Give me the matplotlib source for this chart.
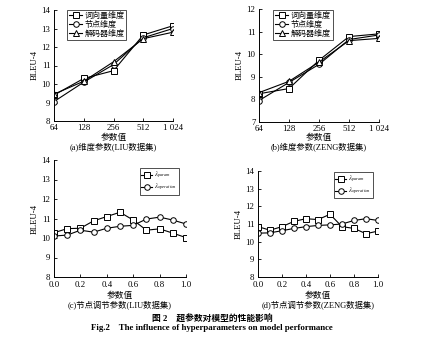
import matplotlib.pyplot as plt

plt.rcParams['font.family'] = ['Liberation Serif', 'Noto Sans CJK SC']
plt.rcParams['mathtext.fontset'] = 'stix'

# Dimension parameters
dim_labels = ["64", "128", "256", "512", "1 024"]
liu_word = [9.4, 10.3, 10.72, 12.65, 13.15]
liu_node = [9.05, 10.1, 11.05, 12.5, 13.0]
liu_dec = [9.45, 10.15, 11.2, 12.45, 12.8]
zeng_word = [8.25, 8.48, 9.73, 10.78, 10.9]
zeng_node = [7.95, 8.75, 9.55, 10.65, 10.85]
zeng_dec = [8.3, 8.8, 9.65, 10.6, 10.7]

# Node adjustment parameters
lam = [0.0, 0.1, 0.2, 0.3, 0.4, 0.5, 0.6, 0.7, 0.8, 0.9, 1.0]
liu_param = [10.27, 10.48, 10.5, 10.88, 11.1, 11.32, 10.92, 10.4, 10.47, 10.25, 10.02]
liu_oper = [10.1, 10.15, 10.4, 10.3, 10.5, 10.6, 10.65, 10.97, 11.07, 10.92, 10.72]
zeng_param = [10.85, 10.65, 10.85, 11.15, 11.3, 11.25, 11.55, 10.85, 10.75, 10.45, 10.6]
zeng_oper = [10.48, 10.5, 10.62, 10.75, 10.85, 10.92, 10.95, 11.0, 11.2, 11.3, 11.2]

dim_names = ["词向量维度", "节点维度", "解码器维度"]

W, H = 444, 352
fig = plt.figure(figsize=(W / 100, H / 100), dpi=100)

fs = 6.3
lkw = dict(color="black", lw=0.8, markerfacecolor="white", markeredgecolor="black",
           markersize=4, markeredgewidth=0.7)


def add_ax(left, right, top, bottom):
    return fig.add_axes([left / W, 1 - bottom / H, (right - left) / W, (bottom - top) / H])


def style(ax, xlabel_y, caption_y, caption, xpad):
    ax.spines["top"].set_visible(False)
    ax.spines["right"].set_visible(False)
    ax.spines["left"].set_linewidth(0.7)
    ax.spines["bottom"].set_linewidth(0.7)
    ax.tick_params(direction="in", length=2.5, width=0.6, labelsize=fs)
    ax.tick_params(axis="x", pad=xpad)
    ax.tick_params(axis="y", pad=2.5)
    ax.set_ylabel("BLEU-4", fontsize=fs, labelpad=2)
    pos = ax.get_position()
    xc = (pos.x0 + pos.x1) / 2
    fig.text(xc, 1 - xlabel_y / H, "参数值", ha="center", va="center", fontsize=fs)
    fig.text(xc, 1 - caption_y / H, caption, ha="center", va="center", fontsize=fs - 0.3)


def legend(ax, anchor, size):
    leg = ax.legend(loc="upper left", bbox_to_anchor=anchor, fontsize=size, frameon=True,
                    fancybox=False, edgecolor="black", handlelength=1.6, handletextpad=0.3,
                    borderpad=0.25, labelspacing=0.1, borderaxespad=0.0)
    leg.get_frame().set_linewidth(0.6)


# (a)
ax = add_ax(54, 173, 10, 121)
x = range(len(dim_labels))
ax.plot(x, liu_word, marker="s", label=dim_names[0], **lkw)
ax.plot(x, liu_node, marker="o", label=dim_names[1], **lkw)
ax.plot(x, liu_dec, marker="^", label=dim_names[2], **lkw)
ax.set_xlim(0, 4)
ax.set_ylim(8, 14)
ax.set_xticks(list(x))
ax.set_xticklabels(dim_labels)
style(ax, 138, 147, "(a)维度参数(LIU数据集)", 2)
legend(ax, (0.11, 1.0), fs - 0.5)

# (b)
ax = add_ax(259, 379, 9, 122)
ax.plot(x, zeng_word, marker="s", label=dim_names[0], **lkw)
ax.plot(x, zeng_node, marker="o", label=dim_names[1], **lkw)
ax.plot(x, zeng_dec, marker="^", label=dim_names[2], **lkw)
ax.set_xlim(0, 4)
ax.set_ylim(7, 12)
ax.set_xticks(list(x))
ax.set_xticklabels(dim_labels)
ax.set_yticks([7, 8, 9, 10, 11, 12])
style(ax, 138, 147, "(b)维度参数(ZENG数据集)", 2)
legend(ax, (0.12, 0.99), fs - 0.5)

# (c)
ax = add_ax(54, 186, 160, 277)
ax.plot(lam, liu_param, marker="s", label=r"$\lambda_{param}$", **lkw)
ax.plot(lam, liu_oper, marker="o", label=r"$\lambda_{operation}$", **lkw)
ax.set_xlim(0, 1)
ax.set_ylim(8, 14)
ax.set_xticks([0.0, 0.2, 0.4, 0.6, 0.8, 1.0])
style(ax, 296, 306, "(c)节点调节参数(LIU数据集)", 3)
legend(ax, (0.65, 0.93), 4.8)

# (d)
ax = add_ax(258, 378, 171, 277)
ax.plot(lam, zeng_param, marker="s", label=r"$\lambda_{param}$", **lkw)
ax.plot(lam, zeng_oper, marker="o", label=r"$\lambda_{operation}$", **lkw)
ax.set_xlim(0, 1)
ax.set_ylim(8, 14)
ax.set_xticks([0.0, 0.2, 0.4, 0.6, 0.8, 1.0])
style(ax, 296, 306, "(d)节点调节参数(ZENG数据集)", 3)
legend(ax, (0.63, 0.99), 4.8)

fig.text(212 / W, 1 - 319 / H, "图 2    超参数对模型的性能影响", ha="center", va="center",
         fontsize=fs, fontweight="bold")
fig.text(212 / W, 1 - 328 / H, "Fig.2    The influence of hyperparameters on model performance",
         ha="center", va="center", fontsize=fs, fontweight="bold")

fig.savefig("out.png", dpi=100)
